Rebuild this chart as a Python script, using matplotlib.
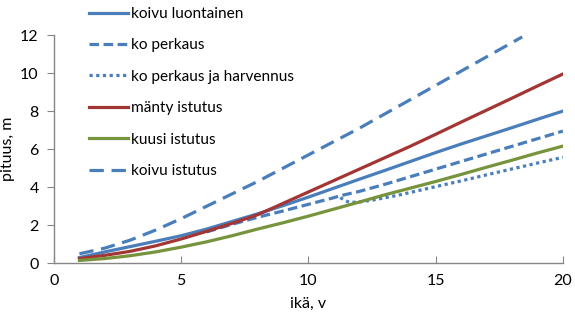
import matplotlib.pyplot as plt

plt.rcParams['font.family'] = ['Lato', 'DejaVu Sans']

# height curves by age
age = [1, 2, 3, 4, 5, 6, 7, 8, 9, 10, 11, 12, 13, 14, 15, 16, 17, 18, 19, 20]
koivu_luontainen = [0.3, 0.6, 0.88, 1.16, 1.45, 1.8, 2.2, 2.6, 3.03, 3.48, 3.95, 4.42, 4.88, 5.35,
                    5.82, 6.27, 6.7, 7.13, 7.57, 8.0]
mänty_istutus = [0.25, 0.42, 0.63, 0.92, 1.28, 1.68, 2.1, 2.55, 3.15, 3.75, 4.35, 4.95, 5.55, 6.15,
                 6.78, 7.42, 8.05, 8.68, 9.32, 9.95]
kuusi_istutus = [0.15, 0.25, 0.4, 0.6, 0.85, 1.13, 1.45, 1.8, 2.13, 2.48, 2.85, 3.22, 3.6, 3.95,
                 4.3, 4.67, 5.05, 5.42, 5.8, 6.16]

age_koivu_ist = [1, 2, 3, 4, 5, 6, 7, 8, 9, 10, 11, 12, 13, 14, 15, 16, 17, 18, 18.4]
koivu_istutus = [0.5, 0.8, 1.22, 1.75, 2.35, 3.0, 3.65, 4.3, 5.0, 5.7, 6.4, 7.1, 7.85, 8.6,
                 9.35, 10.1, 10.85, 11.6, 11.9]

age_perkaus = [6, 7, 8, 9, 10, 11, 11.25, 12, 13, 14, 15, 16, 17, 18, 19, 20]
ko_perkaus = [1.65, 2.05, 2.42, 2.75, 3.1, 3.45, 3.55, 3.78, 4.15, 4.55, 4.95, 5.35, 5.75, 6.15,
              6.55, 6.95]

age_harv = [11.25, 11.6, 12, 12.5, 13.5, 15, 16, 17, 18, 19, 20]
ko_harvennus = [3.45, 3.2, 3.22, 3.32, 3.57, 4.03, 4.33, 4.65, 4.96, 5.27, 5.57]

xticks = [0, 5, 10, 15, 20]
yticks = [0, 2, 4, 6, 8, 10, 12]

blue = '#4A7EBB'
red = '#A33634'
green = '#77933C'
lw = 2.3
fs = 11.5
legend_fs = 11.1

fig = plt.figure(figsize=(5.75, 3.23), dpi=100)
ax = fig.add_axes([0.0939, 0.1848, 0.885, 0.7068])

ax.plot(age, koivu_luontainen, color=blue, lw=lw, label='koivu luontainen')
ax.plot(age_perkaus, ko_perkaus, color=blue, lw=lw, dashes=(3, 1.4), label='ko perkaus')
ax.plot(age_harv, ko_harvennus, color=blue, lw=lw, dashes=(1, 1.1), label='ko perkaus ja harvennus')
ax.plot(age, mänty_istutus, color=red, lw=lw, label='mänty istutus')
ax.plot(age, kuusi_istutus, color=green, lw=lw, label='kuusi istutus')
ax.plot(age_koivu_ist, koivu_istutus, color=blue, lw=lw, dashes=(4.5, 2.4), label='koivu istutus')

ax.set_xlim(0, 20)
ax.set_ylim(0, 12)
ax.set_xticks(xticks)
ax.set_yticks(yticks)
for s in ['top', 'right']:
    ax.spines[s].set_visible(False)
for s in ['left', 'bottom']:
    ax.spines[s].set_color('#868686')
    ax.spines[s].set_linewidth(1.0)
ax.tick_params(axis='x', direction='in', length=5, color='#868686', labelsize=fs, pad=8)
ax.tick_params(axis='y', direction='out', length=5, color='#868686', labelsize=fs, pad=6)

ax.set_xlabel('ikä, v', fontsize=fs, labelpad=6)
ax.set_ylabel('pituus, m', fontsize=fs, labelpad=4)

leg = fig.legend(loc='upper left', bbox_to_anchor=(89 / 575, 1 - 7 / 323), frameon=False,
                 fontsize=legend_fs, handlelength=2.5, handletextpad=0.25, labelspacing=1.13,
                 borderpad=0, borderaxespad=0)

fig.savefig('out.png', dpi=100)
